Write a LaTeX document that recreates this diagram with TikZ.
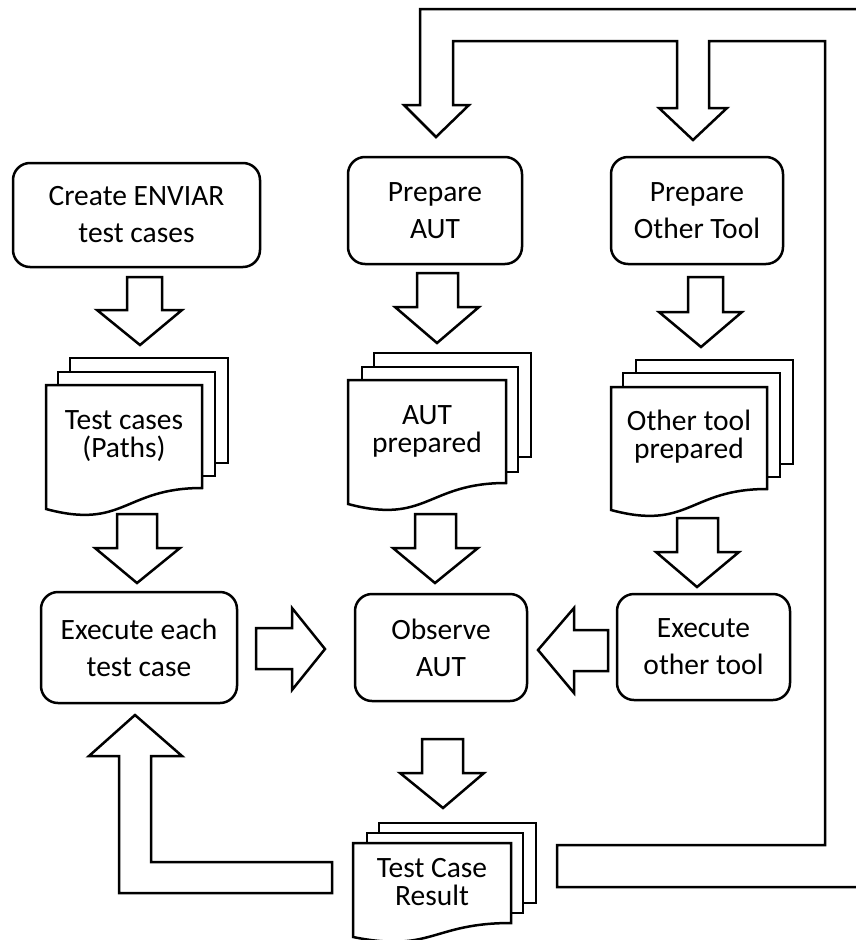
\documentclass[tikz,border=0pt]{standalone}
\usepackage{fontspec}
\setmainfont{Carlito}
\newcommand\boxfont{\fontsize{29.5}{37}\selectfont}
\newcommand\docfont{\fontsize{29.5}{28}\selectfont}
\tikzset{
  proc/.style={draw, line width=2.5pt, rounded corners=17pt, fill=white,
    align=center, inner sep=0pt, font=\boxfont},
  blockarrow/.style={draw, line width=2.5pt, fill=white, line join=miter},
  sheet/.style={draw, line width=2.5pt, fill=white, line join=miter},
  doctext/.style={align=center, inner sep=0pt, font=\docfont}
}
\begin{document}
\begin{tikzpicture}[x=1pt, y=-1pt]
\useasboundingbox (0,0) rectangle (856,940);
\clip (0,0) rectangle (856,940);

% feedback band from the result back to both preparation steps
\draw[blockarrow] (557,845) -- (825,845) -- (825,41) -- (709,41) -- (709,108)
  -- (727,108) -- (693,140) -- (659,108) -- (677,108) -- (677,41) -- (453,41)
  -- (453,105) -- (469,105) -- (436,137) -- (404,105) -- (420,105) -- (420,9)
  -- (880,9) -- (880,887) -- (557,887) -- cycle;

% process boxes
\node[proc, minimum width=247pt, minimum height=104pt] (create) at (136.5,215) {Create ENVIAR\\test cases};
\node[proc, minimum width=174pt, minimum height=107pt] (prepaut) at (435,210.5) {Prepare\\AUT};
\node[proc, minimum width=172pt, minimum height=107pt] (prepot) at (697,210.5) {Prepare\\Other Tool};
\node[proc, minimum width=196pt, minimum height=111pt] (exec) at (139,647.5) {Execute each\\test case};
\node[proc, minimum width=172pt, minimum height=107pt] (observe) at (441,647.5) {Observe\\AUT};
\node[proc, minimum width=173pt, minimum height=106pt] (execot) at (703.5,647) {Execute\\other tool};

% document stack: test cases
\draw[sheet] (70,358) rectangle (228,463);
\draw[sheet] (58,372) rectangle (215,476);
\draw[sheet] (46,385) -- (202,385) -- (202,488) .. controls (124,488) and (124,530) .. (46,509) -- cycle;
\node[doctext] (cases) at (124,436) {Test cases\\(Paths)};

% document stack: AUT prepared
\draw[sheet] (374,353) rectangle (531,457);
\draw[sheet] (362,367) rectangle (518,472);
\draw[sheet] (348,380) -- (506,380) -- (506,483) .. controls (427,483) and (427,525) .. (348,504) -- cycle;
\node[doctext] (autprep) at (427,431) {AUT\\prepared};

% document stack: other tool prepared
\draw[sheet] (636,360) rectangle (793,464);
\draw[sheet] (623,373) rectangle (780,477);
\draw[sheet] (611,387) -- (767,387) -- (767,489) .. controls (689,489) and (689,531) .. (611,510) -- cycle;
\node[doctext] (otprep) at (689,437) {Other tool\\prepared};

% document stack: test case result
\draw[sheet] (379,823) rectangle (536,903);
\draw[sheet] (367,833) rectangle (523,913);
\draw[sheet] (353,843) -- (511,843) -- (511,923) .. controls (432,923) and (432,953) .. (353,937) -- cycle;
\node[doctext] (result) at (432,882) {Test Case\\Result};

% downward block arrows
\draw[blockarrow] (127,277) -- (162,277) -- (162,310) -- (182,310) -- (140,345) -- (97,310) -- (127,310) -- cycle;
\draw[blockarrow] (117,514) -- (157,514) -- (157,548) -- (180,548) -- (137,583) -- (95,548) -- (117,548) -- cycle;
\draw[blockarrow] (417,273) -- (458,273) -- (458,307) -- (479,307) -- (437,343) -- (395,307) -- (417,307) -- cycle;
\draw[blockarrow] (688,277) -- (723,277) -- (723,312) -- (742,312) -- (701,347) -- (659,312) -- (688,312) -- cycle;
\draw[blockarrow] (415,514) -- (456,514) -- (456,548) -- (478,548) -- (435,583) -- (393,548) -- (415,548) -- cycle;
\draw[blockarrow] (677,518) -- (718,518) -- (718,552) -- (739,552) -- (697,587) -- (656,552) -- (677,552) -- cycle;
\draw[blockarrow] (422,739) -- (463,739) -- (463,773) -- (484,773) -- (443,808) -- (400,773) -- (422,773) -- cycle;

% sideways block arrows into the observation step
\draw[blockarrow] (256,628) -- (292,628) -- (292,608) -- (325,649) -- (292,690) -- (292,669) -- (256,669) -- cycle;
\draw[blockarrow] (608,630) -- (574,630) -- (574,608) -- (538,650) -- (574,693) -- (574,671) -- (608,671) -- cycle;

% bent arrow from the result back to execution
\draw[blockarrow] (119,893) -- (332,893) -- (332,862) -- (151,862) -- (151,756) -- (182,756)
  -- (135,715) -- (89,756) -- (119,756) -- cycle;
\end{tikzpicture}
\end{document}
